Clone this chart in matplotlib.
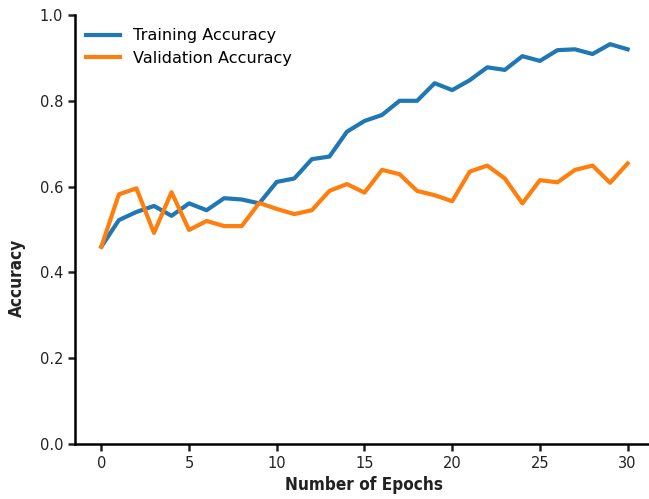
import matplotlib
matplotlib.use("Agg")
import matplotlib.pyplot as plt

epochs = list(range(31))
train_acc = [0.460, 0.522, 0.541, 0.555, 0.532, 0.561, 0.545, 0.573, 0.570, 0.561,
             0.611, 0.619, 0.664, 0.670, 0.728, 0.753, 0.767, 0.800, 0.800, 0.841,
             0.825, 0.848, 0.878, 0.872, 0.904, 0.893, 0.918, 0.920, 0.909, 0.932, 0.920]
val_acc = [0.460, 0.582, 0.596, 0.492, 0.587, 0.499, 0.520, 0.508, 0.508, 0.562,
           0.548, 0.536, 0.545, 0.590, 0.606, 0.586, 0.639, 0.629, 0.590, 0.580,
           0.566, 0.635, 0.649, 0.619, 0.561, 0.615, 0.610, 0.639, 0.649, 0.609, 0.654]
xticks = [0, 5, 10, 15, 20, 25, 30]
yticks = [0.0, 0.2, 0.4, 0.6, 0.8, 1.0]

fig = plt.figure(figsize=(6.49, 4.99), dpi=100)
ax = fig.add_axes([0.1156, 0.110, 0.892, 0.860])
ax.plot(epochs, train_acc, color="#1f77b4", lw=3, label="Training Accuracy")
ax.plot(epochs, val_acc, color="#ff7f0e", lw=3, label="Validation Accuracy")
ax.set_xlim(-1.5, 31.5)
ax.set_ylim(0, 1.0)
ax.set_xticks(xticks)
ax.set_yticks(yticks)
ax.set_yticklabels([f"{v:.1f}" for v in yticks])
for s in ["top", "right"]:
    ax.spines[s].set_visible(False)
for s in ["left", "bottom"]:
    ax.spines[s].set_linewidth(1.8)
ax.tick_params(width=1.8, length=5, labelsize=10.5, colors="#222222")
ax.set_xlabel("Number of Epochs", fontsize=12.3, fontweight="bold", fontstretch="condensed",
              family="DejaVu Sans", color="#222222")
ax.set_ylabel("Accuracy", fontsize=12.3, fontweight="bold", fontstretch="condensed",
              family="DejaVu Sans", color="#222222")
ax.yaxis.set_label_coords(-0.084, 0.387)
ax.legend(loc="upper left", frameon=False, fontsize=11.6, handlelength=2.1, borderaxespad=0.3,
          bbox_to_anchor=(0.0, 0.995), labelspacing=0.45)
fig.savefig("out.png", dpi=100)
